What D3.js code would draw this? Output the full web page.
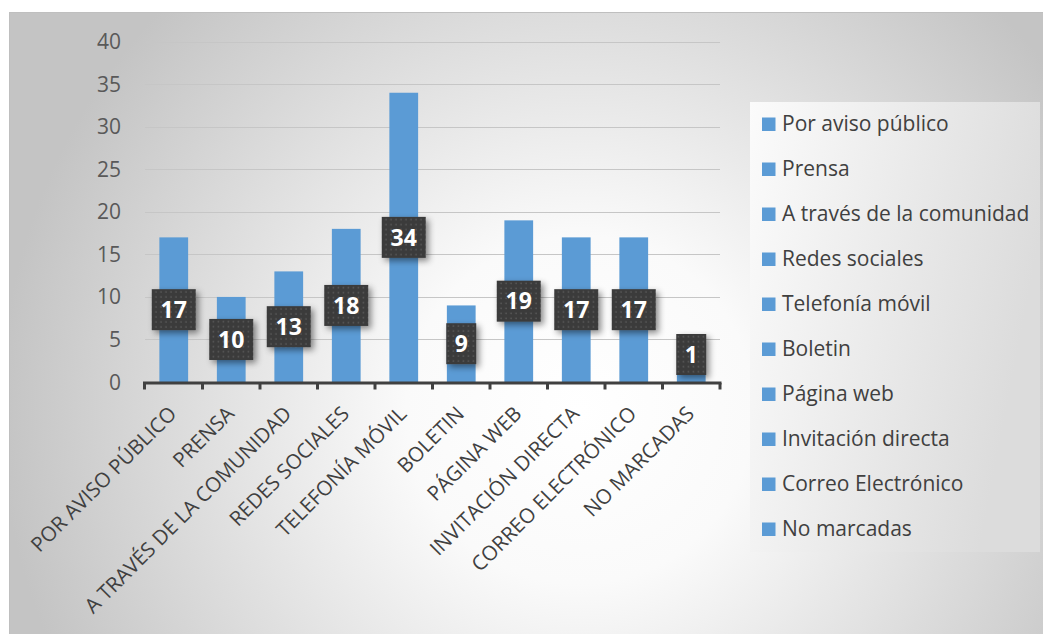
<!DOCTYPE html>
<html><head><meta charset="utf-8">
<script src="https://cdn.jsdelivr.net/npm/d3@7/dist/d3.min.js"></script>
<style>html,body{margin:0;padding:0;background:#fff;}svg{display:block;}</style>
</head><body>
<svg id="chart" width="1043" height="634"></svg>
<script>
const categories = ["POR AVISO PÚBLICO","PRENSA","A TRAVÉS DE LA COMUNIDAD","REDES SOCIALES","TELEFONÍA MÓVIL","BOLETIN","PÁGINA WEB","INVITACIÓN DIRECTA","CORREO ELECTRÓNICO","NO MARCADAS"];
const legendLabels = ["Por aviso público","Prensa","A través de la comunidad","Redes sociales","Telefonía móvil","Boletin","Página web","Invitación directa","Correo Electrónico","No marcadas"];
const values = [17,10,13,18,34,9,19,17,17,1];
const yTicks = [0,5,10,15,20,25,30,35,40];

const svg = d3.select("#chart");
const defs = svg.append("defs");

const bg = defs.append("radialGradient").attr("id","bgGrad")
  .attr("gradientUnits","userSpaceOnUse").attr("cx",580).attr("cy",410).attr("r",580);
bg.append("stop").attr("offset","0").attr("stop-color","#ffffff");
bg.append("stop").attr("offset","0.3").attr("stop-color","#fafafa");
bg.append("stop").attr("offset","1").attr("stop-color","#c4c4c4");

const lg = defs.append("linearGradient").attr("id","legGrad").attr("x1","0").attr("y1","0").attr("x2","1").attr("y2","0.3");
lg.append("stop").attr("offset","0").attr("stop-color","#fbfbfb");
lg.append("stop").attr("offset","1").attr("stop-color","#dcdcdc");

const pat = defs.append("pattern").attr("id","dots").attr("patternUnits","userSpaceOnUse").attr("width",5).attr("height",5);
pat.append("rect").attr("width",5).attr("height",5).attr("fill","#3a3a3a");
pat.append("rect").attr("x",1.5).attr("y",1.5).attr("width",1.5).attr("height",1.5).attr("fill","#5e5e5e");

const sh = defs.append("filter").attr("id","shadow").attr("x","-30%").attr("y","-30%").attr("width","170%").attr("height","170%");
sh.append("feDropShadow").attr("dx",3).attr("dy",3).attr("stdDeviation",3).attr("flood-color","#000").attr("flood-opacity",0.45);

// chart area
svg.append("rect").attr("x",9.5).attr("y",12.5).attr("width",1040).attr("height",630)
  .attr("fill","url(#bgGrad)").attr("stroke","#bfbfbf").attr("stroke-width",1);

const x = d3.scaleBand().domain(categories).range([145,720]).paddingInner(0.5).paddingOuter(0.25);
const y = d3.scaleLinear().domain([0,40]).range([382,41.7]);

// gridlines
svg.append("g").selectAll("line").data(yTicks.filter(d=>d>0)).join("line")
  .attr("x1",145).attr("x2",720).attr("y1",d=>Math.round(y(d))+0.5).attr("y2",d=>Math.round(y(d))+0.5)
  .attr("stroke","#c6c6c6").attr("stroke-width",1.2);

// y labels
svg.append("g").selectAll("text").data(yTicks).join("text")
  .attr("x",121).attr("y",d=>y(d)).attr("dy","0.36em").attr("text-anchor","end")
  .attr("font-family","'Open Sans', sans-serif").attr("font-size",21).attr("fill","#595959")
  .text(d=>d);

// bars
svg.append("g").selectAll("rect").data(values).join("rect")
  .attr("x",(d,i)=>x(categories[i])).attr("width",x.bandwidth())
  .attr("y",d=>y(d)).attr("height",d=>y(0)-y(d)).attr("fill","#5b9bd5");

// x axis
const step = x.step();
const ax = svg.append("g");
ax.append("line").attr("x1",143).attr("x2",721.5).attr("y1",383).attr("y2",383).attr("stroke","#404040").attr("stroke-width",3);
ax.selectAll("line.tick").data(d3.range(categories.length+1)).join("line").attr("class","tick")
  .attr("x1",i=>145+i*step - (i===0?0.5:0)).attr("x2",i=>145+i*step-(i===0?0.5:0)).attr("y1",383).attr("y2",389.5)
  .attr("stroke","#404040").attr("stroke-width",3);

// x labels
svg.append("g").selectAll("text").data(categories).join("text")
  .attr("transform",d=>`translate(${x(d)+x.bandwidth()/2-1},${410}) rotate(-45)`)
  .attr("text-anchor","end").attr("dy","0.35em")
  .attr("font-family","'Open Sans', sans-serif").attr("font-size",20.5).attr("fill","#404040")
  .text(d=>d);

// data labels
const lab = svg.append("g").selectAll("g").data(values).join("g")
  .attr("transform",(d,i)=>{
    const cx = x(categories[i])+x.bandwidth()/2;
    let cy = (y(d)+y(0))/2;
    cy = Math.min(cy, y(0)-27.5);
    return `translate(${cx},${cy})`;
  });
lab.append("rect").attr("x",d=>String(d).length>1?-22:-15).attr("y",-20.5)
  .attr("width",d=>String(d).length>1?44:30).attr("height",41)
  .attr("fill","url(#dots)").attr("filter","url(#shadow)");
lab.append("text").attr("text-anchor","middle").attr("dy","0.36em")
  .attr("font-family","'Open Sans', sans-serif").attr("font-weight","bold").attr("font-size",23).attr("fill","#ffffff")
  .text(d=>d);

// legend
svg.append("rect").attr("x",750).attr("y",102).attr("width",290).attr("height",450).attr("fill","url(#legGrad)");
const leg = svg.append("g").selectAll("g").data(legendLabels).join("g")
  .attr("transform",(d,i)=>`translate(762,${124+i*45})`);
leg.append("rect").attr("x",0).attr("y",-6.5).attr("width",13.5).attr("height",13.5).attr("fill","#5b9bd5");
leg.append("text").attr("x",20).attr("dy","0.35em")
  .attr("font-family","'Open Sans', sans-serif").attr("font-size",21).attr("fill","#404040")
  .text(d=>d);
</script>
</body></html>
